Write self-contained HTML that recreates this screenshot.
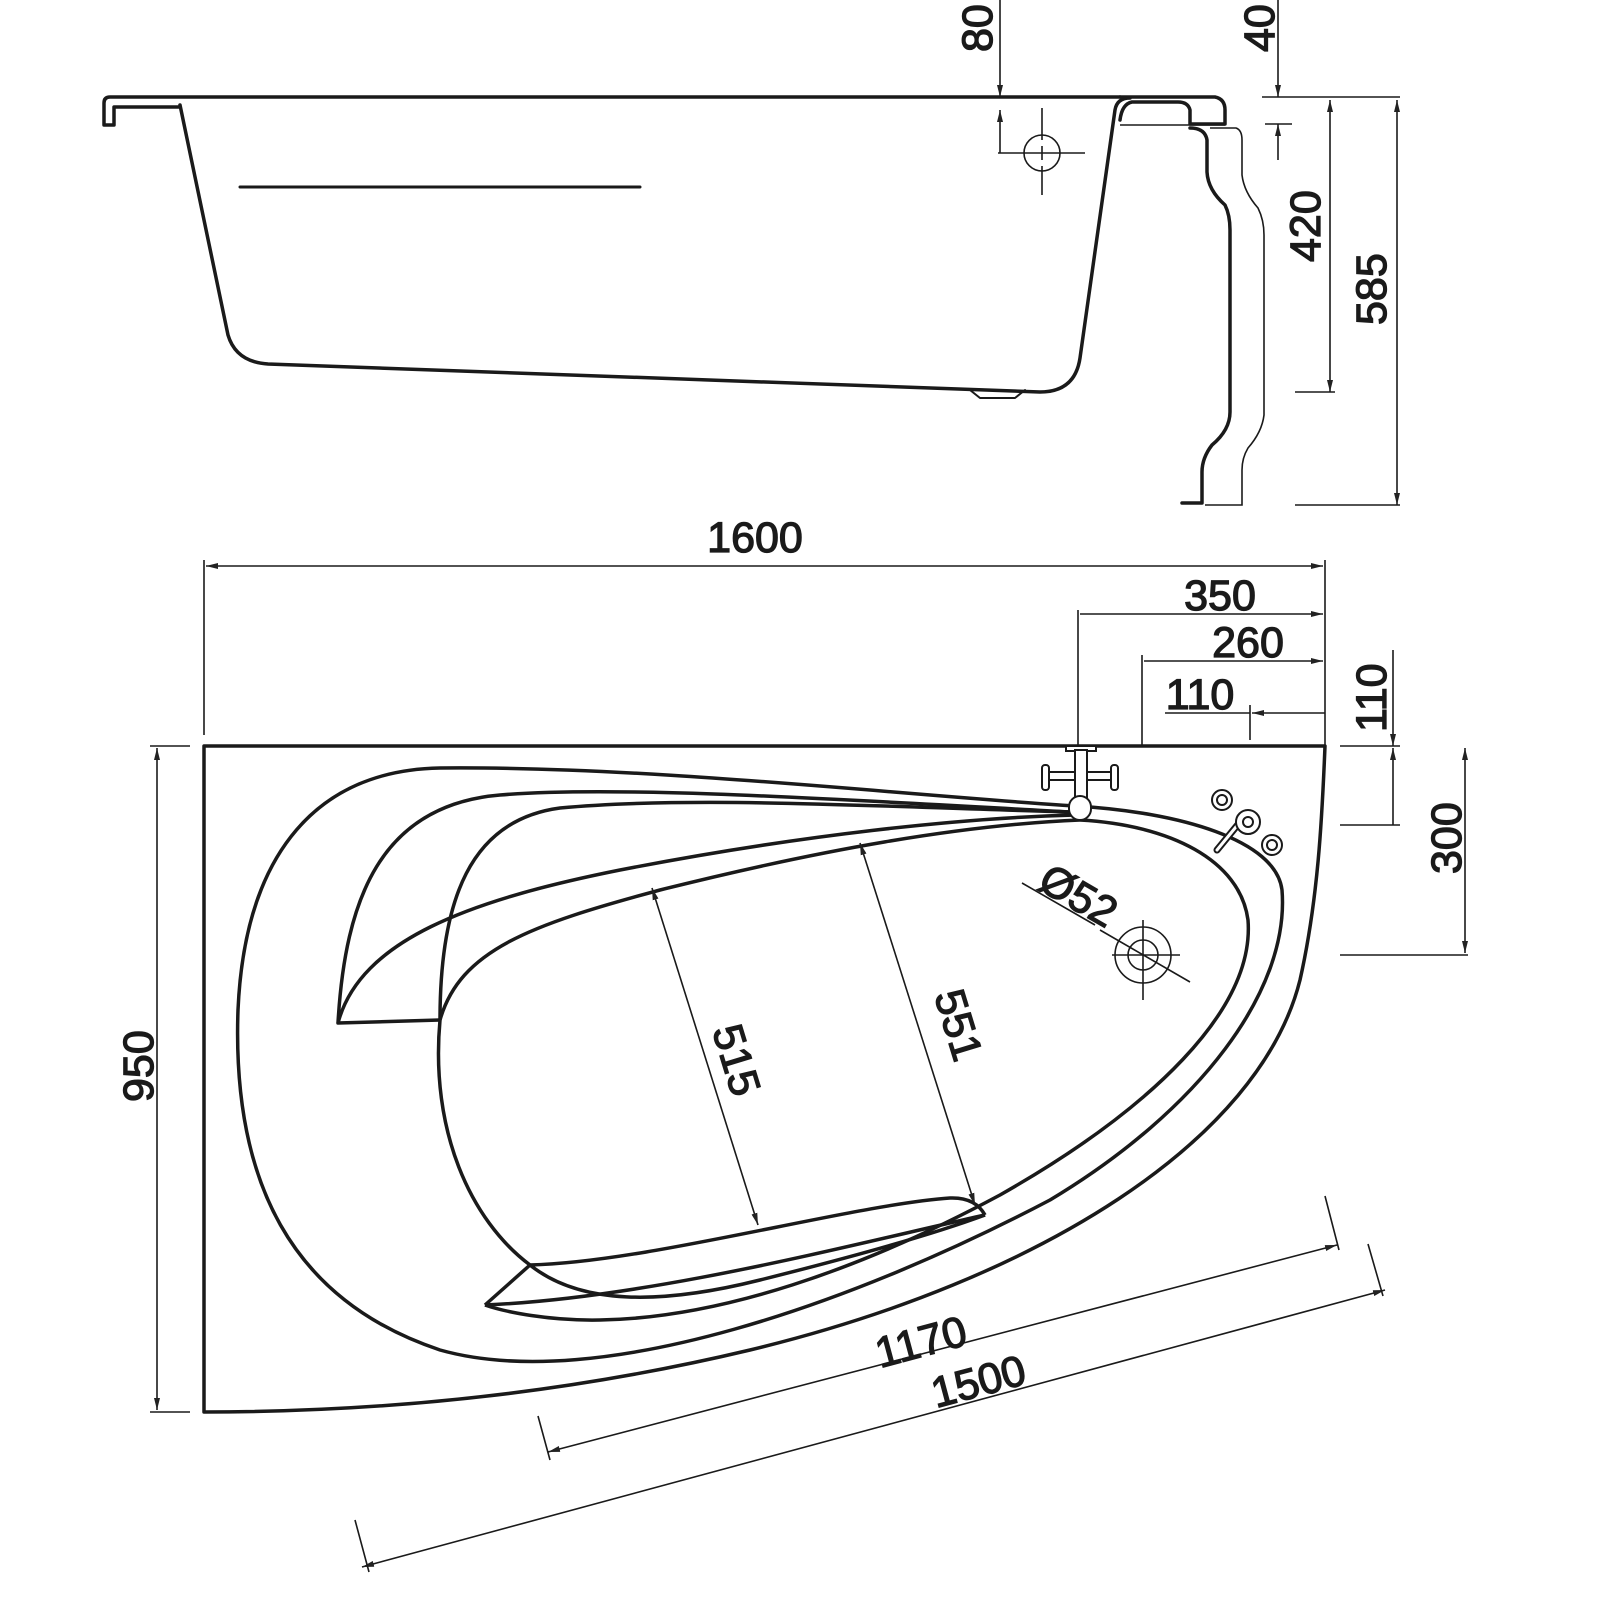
<!DOCTYPE html>
<html><head><meta charset="utf-8"><style>
html,body{margin:0;padding:0;background:#fff;}
svg{display:block}
text{font-family:"Liberation Sans",sans-serif;font-size:43px;fill:#1a1a1a;stroke:#1a1a1a;stroke-width:1.3}
</style></head><body>
<svg width="1600" height="1600" viewBox="0 0 1600 1600" xmlns="http://www.w3.org/2000/svg">
<defs>
<marker id="a" viewBox="0 0 12 6" refX="12" refY="3" markerWidth="12" markerHeight="6" orient="auto-start-reverse" markerUnits="userSpaceOnUse"><path d="M0,0 L12,3 L0,6 z" fill="#222"/></marker>
</defs>
<g fill="none" stroke="#1a1a1a" stroke-width="3.5" stroke-linejoin="round" stroke-linecap="round">
<!-- SIDE VIEW -->
<path d="M1120,97 L110,97 Q104,97 104,103 L104,125 L114,125 L114,107 L180,107"/>
<path d="M180,105 L228,335 Q236,362 268,364 L1040,392 Q1075,392 1080,358 L1115,110 Q1117,98 1130,98"/>
<path d="M1120,97 L1215,97 Q1225,99 1225,110 L1225,124 L1190,124 L1190,110 Q1188,102 1178,102 L1132,102 Q1122,104 1120,120"/>
<path d="M1190,128 Q1205,128 1207,140 L1207,172 Q1208,190 1225,205 Q1230,215 1230,230 L1230,412 Q1230,430 1212,445 Q1202,458 1202,472 L1202,503 L1182,503"/>
<path d="M240,187 L640,187" stroke-width="3"/>
<path d="M970,390 L980,398 L1015,398 L1025,390" stroke-width="2"/>
</g>
<g fill="none" stroke="#1a1a1a" stroke-width="1.6">
<path d="M1120,125 L1225,125"/>
<path d="M1210,128 L1236,128 Q1242,130 1242,140 L1242,175 Q1244,192 1258,208 Q1264,220 1264,235 L1264,415 Q1262,432 1248,448 Q1242,458 1242,470 L1242,505 L1205,505"/>
<path d="M1000,0 L1000,97" marker-end="url(#a)"/>
<path d="M1000,153 L1000,110" marker-end="url(#a)"/>
<path d="M998,153 L1085,153"/>
<circle cx="1042" cy="153" r="18"/>
<path d="M1042,108 L1042,140 M1042,166 L1042,195 M1042,146 L1042,160"/>
<path d="M1278,0 L1278,97" marker-end="url(#a)"/>
<path d="M1278,160 L1278,124" marker-end="url(#a)"/>
<path d="M1262,97 L1400,97 M1265,124 L1292,124"/>
<path d="M1330,100 L1330,392" marker-start="url(#a)" marker-end="url(#a)"/>
<path d="M1295,392 L1335,392"/>
<path d="M1397,100 L1397,505" marker-start="url(#a)" marker-end="url(#a)"/>
<path d="M1295,505 L1400,505"/>
</g>
<text transform="translate(992,52) rotate(-90)">80</text>
<text transform="translate(1274,52) rotate(-90)">40</text>
<text transform="translate(1320,262) rotate(-90)">420</text>
<text transform="translate(1386,325) rotate(-90)">585</text>

<!-- PLAN VIEW -->
<g fill="none" stroke="#1a1a1a" stroke-width="3.5" stroke-linejoin="round">
<path d="M204,746 L1325,746 C1322,820 1318,900 1300,980 C1260,1140 1040,1280 750,1350 C540,1400 350,1412 204,1412 Z"/>
<!-- rim outer -->
<path d="M1075,806 C900,795 650,766 440,768 C320,770 245,850 238,1010 C232,1180 290,1300 440,1350 C600,1395 860,1300 1050,1200 C1200,1110 1290,990 1282,890 C1276,840 1180,812 1075,806 Z"/>
<!-- inner rim / basin -->
<path d="M1080,820 C1170,825 1240,860 1248,920 C1255,1010 1150,1110 1000,1195 C860,1270 720,1318 600,1320 C550,1321 505,1312 485,1305"/>
<!-- left seat backs -->
<path d="M1070,812 C850,800 620,785 500,795 C380,805 345,900 338,1023 L440,1020"/>
<path d="M338,1023 C360,940 470,900 620,870 C800,835 960,818 1075,815"/>
<path d="M440,1020 C440,900 470,820 560,808 C700,795 900,808 1075,812"/>
<path d="M440,1020 C460,950 530,925 660,890 C820,850 960,825 1080,820"/>
<!-- basin left & bottom seat -->
<path d="M440,1020 C430,1130 470,1220 530,1265 C580,1305 660,1305 760,1280 C880,1250 950,1228 985,1215"/>
<path d="M530,1265 L485,1305"/>
<path d="M530,1265 C650,1262 850,1205 950,1198 Q975,1197 985,1215"/>
<path d="M485,1305 C650,1298 850,1245 985,1215"/>
</g>
<!-- faucet & fittings -->
<g fill="#fff" stroke="#1a1a1a" stroke-width="2">
<rect x="1066" y="746" width="30" height="5"/>
<rect x="1045" y="772" width="70" height="8" rx="2"/>
<rect x="1042" y="765" width="7" height="25" rx="3"/>
<rect x="1111" y="765" width="7" height="25" rx="3"/>
<rect x="1075" y="750" width="12" height="62"/>
<rect x="1069" y="796" width="22" height="24" rx="11"/>
<circle cx="1222" cy="800" r="10"/><circle cx="1222" cy="800" r="5"/>
<circle cx="1272" cy="845" r="10"/><circle cx="1272" cy="845" r="5"/>
<path d="M1217,850 L1240,822" stroke-width="7" stroke-linecap="round"/>
<path d="M1217,850 L1240,822" stroke="#fff" stroke-width="3" stroke-linecap="round"/>
<circle cx="1248" cy="822" r="12"/><circle cx="1248" cy="822" r="5"/>
</g>
<g fill="none" stroke="#1a1a1a" stroke-width="1.6">
<path d="M206,566 L1323,566" marker-start="url(#a)" marker-end="url(#a)"/>
<path d="M204,560 L204,735 M1325,560 L1325,746"/>
<path d="M1080,614 L1323,614" marker-end="url(#a)"/>
<path d="M1078,610 L1078,746"/>
<path d="M1144,661 L1323,661" marker-end="url(#a)"/>
<path d="M1142,655 L1142,746"/>
<path d="M1165,713 L1250,713 M1325,713 L1252,713" marker-end="url(#a)"/>
<path d="M1250,705 L1250,740"/>
<path d="M1393,650 L1393,746" marker-end="url(#a)"/>
<path d="M1393,825 L1393,748" marker-end="url(#a)"/>
<path d="M1340,746 L1400,746 M1340,825 L1400,825"/>
<path d="M1465,748 L1465,953" marker-start="url(#a)" marker-end="url(#a)"/>
<path d="M1340,955 L1468,955"/>
<path d="M157,748 L157,1410" marker-start="url(#a)" marker-end="url(#a)"/>
<path d="M150,746 L190,746 M150,1412 L190,1412"/>
<path d="M548,1452 L1337,1245" marker-start="url(#a)" marker-end="url(#a)"/>
<path d="M538,1416 L550,1460 M1325,1196 L1339,1250"/>
<path d="M362,1567 L1385,1290" marker-start="url(#a)" marker-end="url(#a)"/>
<path d="M355,1520 L369,1572 M1368,1244 L1383,1296"/>
<path d="M652,888 L758,1225" marker-start="url(#a)" marker-end="url(#a)"/>
<path d="M860,843 L975,1205" marker-start="url(#a)" marker-end="url(#a)"/>
<path d="M1022,883 L1095,925 M1100,930 L1190,982"/>
<circle cx="1143" cy="955" r="28"/><circle cx="1143" cy="955" r="15"/>
<path d="M1112,955 L1180,955 M1143,920 L1143,1000"/>
</g>
<text x="755" y="552" text-anchor="middle">1600</text>
<text x="1220" y="610" text-anchor="middle">350</text>
<text x="1248" y="657" text-anchor="middle">260</text>
<text x="1200" y="709" text-anchor="middle">110</text>
<text transform="translate(1386,732) rotate(-90)">110</text>
<text transform="translate(1461,874) rotate(-90)">300</text>
<text transform="translate(153,1102) rotate(-90)">950</text>
<text transform="translate(880,1368) rotate(-15)">1170</text>
<text transform="translate(936,1408) rotate(-15)">1500</text>
<text transform="translate(712,1030) rotate(73)">515</text>
<text transform="translate(934,995) rotate(73)">551</text>
<text transform="translate(1036,888) rotate(30)">Ø52</text>
</svg>
</body></html>
